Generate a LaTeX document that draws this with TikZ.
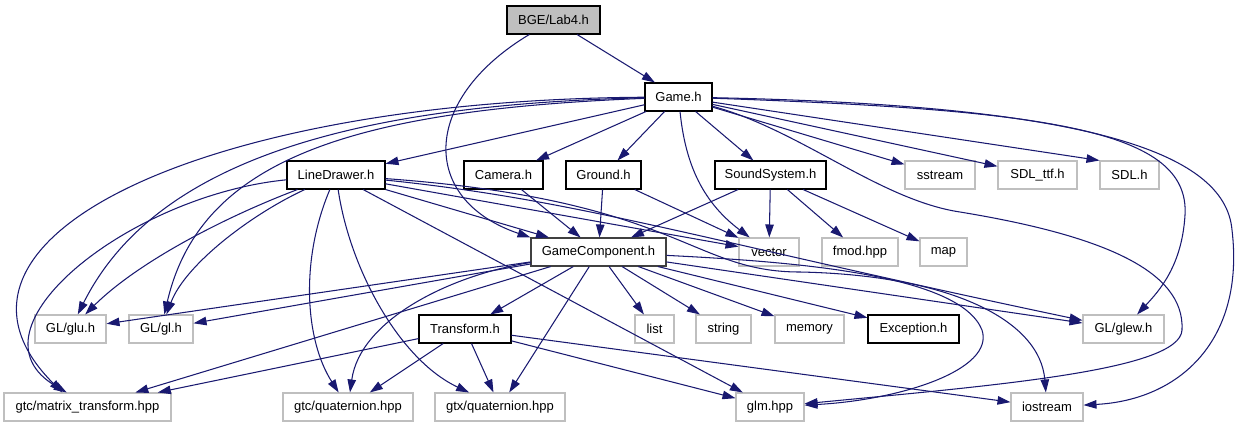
\documentclass[tikz,border=0pt]{standalone}
\usepackage{fontspec}
\setmainfont{Liberation Sans}
\usetikzlibrary{arrows.meta,positioning}
\definecolor{inclblue}{HTML}{191970}
\definecolor{extgray}{HTML}{BFBFBF}
\definecolor{rootfill}{HTML}{BFBFBF}
\definecolor{darkedge}{HTML}{404040}
\tikzset{
  header/.style={rectangle,minimum width=#1,minimum height=0.56cm,inner sep=1pt,
    draw=black,fill=white,text=black,font=\fontsize{7.4}{9}\selectfont,line width=0.6pt},
  header/.default={2cm},
  external/.style={header=#1,draw=extgray},
  external/.default={2cm},
  rootfile/.style={header=#1,fill=rootfill},
  incl/.style={-{Triangle[length=0.26cm,width=0.17cm]},line width=0.6pt,draw=inclblue,#1},
  incl/.default={},
}
\begin{document}
\begin{tikzpicture}[x=0.02cm,y=-0.02cm]
  \useasboundingbox (0,0) rectangle (1240,427);
  \node[rootfile=1.86cm] (lab4) at (553.5,20) {BGE/Lab4.h};
  \node[header=1.34cm] (game) at (678.5,97) {Game.h};
  \node[header=1.96cm] (linedrawer) at (336,175) {LineDrawer.h};
  \node[header=1.58cm] (camera) at (503.5,175) {Camera.h};
  \node[header=1.5cm] (ground) at (603.5,175) {Ground.h};
  \node[header=2.22cm] (sound) at (770.5,175) {SoundSystem.h};
  \node[external=1.4cm] (sstream) at (940,175) {sstream};
  \node[external=1.58cm] (sdlttf) at (1037.5,175) {SDL\_ttf.h};
  \node[external=1.18cm] (sdl) at (1129.5,175) {SDL.h};
  \node[header=2.7cm,draw=darkedge] (gamecomp) at (598.5,252) {GameComponent.h};
  \node[external=1.2cm] (vector) at (769,252) {vector};
  \node[external=1.52cm] (fmod) at (860,252) {fmod.hpp};
  \node[external=0.94cm] (map) at (943.5,252) {map};
  \node[external=1.42cm] (glu) at (70.5,329) {GL/glu.h};
  \node[external=1.28cm] (gl) at (161,329) {GL/gl.h};
  \node[header=1.84cm] (transform) at (465,329) {Transform.h};
  \node[external=0.78cm] (list) at (654.5,329) {list};
  \node[external=1.1cm] (string) at (723.5,329) {string};
  \node[external=1.38cm] (memory) at (809.5,329) {memory};
  \node[header=1.82cm] (exception) at (913.5,329) {Exception.h};
  \node[external=1.62cm] (glew) at (1123.5,329) {GL/glew.h};
  \node[external=3.34cm] (matrix) at (87.5,407) {gtc/matrix\_transform.hpp};
  \node[external=2.6cm] (gtcq) at (348,407) {gtc/quaternion.hpp};
  \node[external=2.6cm] (gtxq) at (500,407) {gtx/quaternion.hpp};
  \node[external=1.36cm] (glm) at (770,407) {glm.hpp};
  \node[external=1.44cm] (iostream) at (1047,407) {iostream};

  \draw[incl] (lab4) -- (game);
  \draw[incl] (lab4) .. controls (420,100) and (420,200) .. (gamecomp.north west);

  \draw[incl] (game) -- (linedrawer);
  \draw[incl] (game) -- (camera);
  \draw[incl] (game) -- (ground);
  \draw[incl] (game) -- (sound);
  \draw[incl] (game) -- (sstream);
  \draw[incl] (game) -- (sdlttf);
  \draw[incl] (game) -- (sdl.north west);
  \draw[incl] (game) .. controls (685,160) and (700,200) .. (vector);
  \draw[incl] (game) .. controls (330,105) and (150,170) .. (glu);
  \draw[incl] (game) .. controls (350,110) and (200,160) .. (gl);
  \draw[incl] (game) .. controls (200,100) and (-90,240) .. (matrix.150);
  \draw[incl] (game) .. controls (1050,110) and (1190,130) .. (1185,215)
    .. controls (1182,265) and (1160,290) .. (glew);
  \draw[incl] (game) .. controls (1080,105) and (1225,150) .. (1232,230)
    .. controls (1245,340) and (1180,400) .. (iostream);
  \draw[incl] (game) .. controls (800,130) and (880,200) .. (960,212)
    .. controls (1100,235) and (1185,270) .. (1182,330)
    .. controls (1180,370) and (1000,385) .. (glm);

  \draw[incl] (linedrawer) -- (gamecomp);
  \draw[incl] (linedrawer) -- (vector);
  \draw[incl] (linedrawer) .. controls (230,215) and (140,260) .. (glu);
  \draw[incl] (linedrawer) .. controls (250,215) and (185,265) .. (gl);
  \draw[incl] (linedrawer) .. controls (130,195) and (-40,330) .. (matrix.145);
  \draw[incl] (linedrawer) .. controls (300,260) and (305,340) .. (gtcq);
  \draw[incl] (linedrawer) .. controls (350,270) and (400,360) .. (gtxq);
  \draw[incl] (linedrawer) -- (glm);
  \draw[incl] (linedrawer) .. controls (580,200) and (700,240) .. (glew);
  \draw[incl] (linedrawer) .. controls (680,200) and (690,272) .. (800,272)
    .. controls (950,275) and (1040,320) .. (iostream);

  \draw[incl] (camera) -- (gamecomp);
  \draw[incl] (ground) -- (gamecomp);
  \draw[incl] (ground) -- (vector);
  \draw[incl] (sound) -- (gamecomp);
  \draw[incl] (sound) -- (vector);
  \draw[incl] (sound) -- (fmod);
  \draw[incl] (sound) -- (map);

  \draw[incl] (gamecomp) -- (glu);
  \draw[incl] (gamecomp) -- (gl);
  \draw[incl] (gamecomp) -- (matrix);
  \draw[incl] (gamecomp) .. controls (450,275) and (360,320) .. (gtcq);
  \draw[incl] (gamecomp) -- (gtxq);
  \draw[incl] (gamecomp) -- (transform);
  \draw[incl] (gamecomp) -- (list);
  \draw[incl] (gamecomp) -- (string);
  \draw[incl] (gamecomp) -- (memory);
  \draw[incl] (gamecomp) -- (exception);
  \draw[incl] (gamecomp) -- (glew);
  \draw[incl] (gamecomp) .. controls (800,262) and (960,275) .. (982,330)
    .. controls (995,370) and (900,400) .. (glm);

  \draw[incl] (transform) -- (matrix);
  \draw[incl] (transform) -- (gtcq);
  \draw[incl] (transform) -- (gtxq);
  \draw[incl] (transform) -- (glm);
  \draw[incl] (transform) -- (iostream);
\end{tikzpicture}
\end{document}
